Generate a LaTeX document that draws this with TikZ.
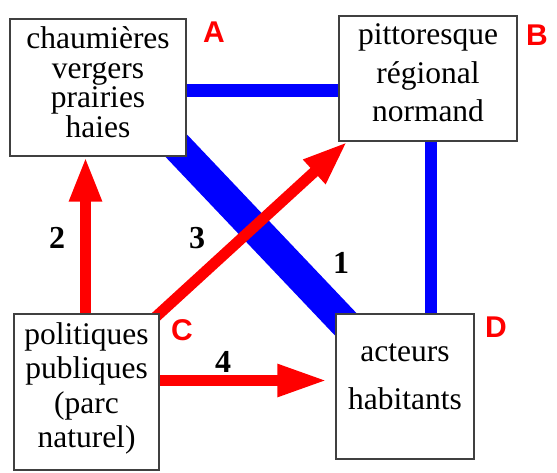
\documentclass[tikz,border=0pt]{standalone}
\usepackage{fontspec}
\setmainfont{Liberation Serif}
\newfontfamily\labfont{Liberation Sans}
\usetikzlibrary{arrows.meta,calc}
\pgfdeclarelayer{bluelayer}
\pgfdeclarelayer{redlayer}
\pgfsetlayers{bluelayer,redlayer,main}
\begin{document}
\begin{tikzpicture}[x=1pt,y=-1pt,
  box/.style={draw=black!75,line width=1.2pt,fill=white,align=center,inner sep=0pt},
  link/.style={draw=blue,line cap=butt},
  arr/.style={draw=red,fill=red,line width=11pt,-{Triangle[length=45pt,width=30pt]}},
  corner/.style={text=red,font=\labfont\bfseries\fontsize{30}{30}\selectfont,inner sep=0pt},
  num/.style={font=\bfseries\fontsize{32}{32}\selectfont,inner sep=0pt}]
\useasboundingbox (0,0) rectangle (557,473);

\node[box,minimum width=176pt,minimum height=137pt,font=\fontsize{31.5}{29.7}\selectfont] (A) at (98,87.5)
  {chaumières\\vergers\\prairies\\haies\rule[-11pt]{0pt}{0pt}};
\node[box,minimum width=178pt,minimum height=125pt,font=\fontsize{31.5}{38.5}\selectfont] (B) at (428,78.5)
  {pittoresque\\régional\\normand\rule[-11pt]{0pt}{0pt}};
\node[box,minimum width=145pt,minimum height=156pt,font=\fontsize{31.5}{34.3}\selectfont] (C) at (86.5,392)
  {politiques\\publiques\\(parc\\naturel)\rule[-14pt]{0pt}{0pt}};
\node[box,minimum width=138pt,minimum height=145pt,font=\fontsize{31.5}{48}\selectfont] (D) at (405,386.5)
  {acteurs\\habitants\rule[-19pt]{0pt}{0pt}};

\node[corner] (lA) at (214,32.5) {A};
\node[corner] (lB) at (537,35.5) {B};
\node[corner] (lC) at (182,330) {C};
\node[corner] (lD) at (496,327.5) {D};

\node[num] (n1) at (341,262.5) {1};
\node[num] (n2) at (57,238) {2};
\node[num] (n3) at (197,238) {3};
\node[num] (n4) at (223,362) {4};

\coordinate (ab) at ([yshift=-3.2pt]A.east);
\coordinate (bd) at ([xshift=3pt]B.south);
\coordinate (ca) at ([xshift=-1pt]C.north);
\coordinate (cd) at ([yshift=11.5pt]C.east);
\coordinate (btip) at ([xshift=9pt]B.south west);
\coordinate (dtip) at ([xshift=-8pt]D.west);

\begin{pgfonlayer}{bluelayer}
  \draw[link,line width=13pt] (ab) -- (ab -| B.west);
  \draw[link,line width=12pt] (bd) -- (bd |- D.north);
  \draw[link,line width=31pt] ($(A.south east)!-30pt!(D.north west)$) -- ($(D.north west)!-30pt!(A.south east)$);
\end{pgfonlayer}

\begin{pgfonlayer}{redlayer}
  \draw[arr] (ca) -- (ca |- A.south);
  \draw[arr] ($(C.north east)!-10pt!(btip)$) -- (btip);
  \draw[arr,-{Triangle[length=50pt,width=30pt]}] (cd) -- (cd -| dtip);
\end{pgfonlayer}
\end{tikzpicture}
\end{document}
